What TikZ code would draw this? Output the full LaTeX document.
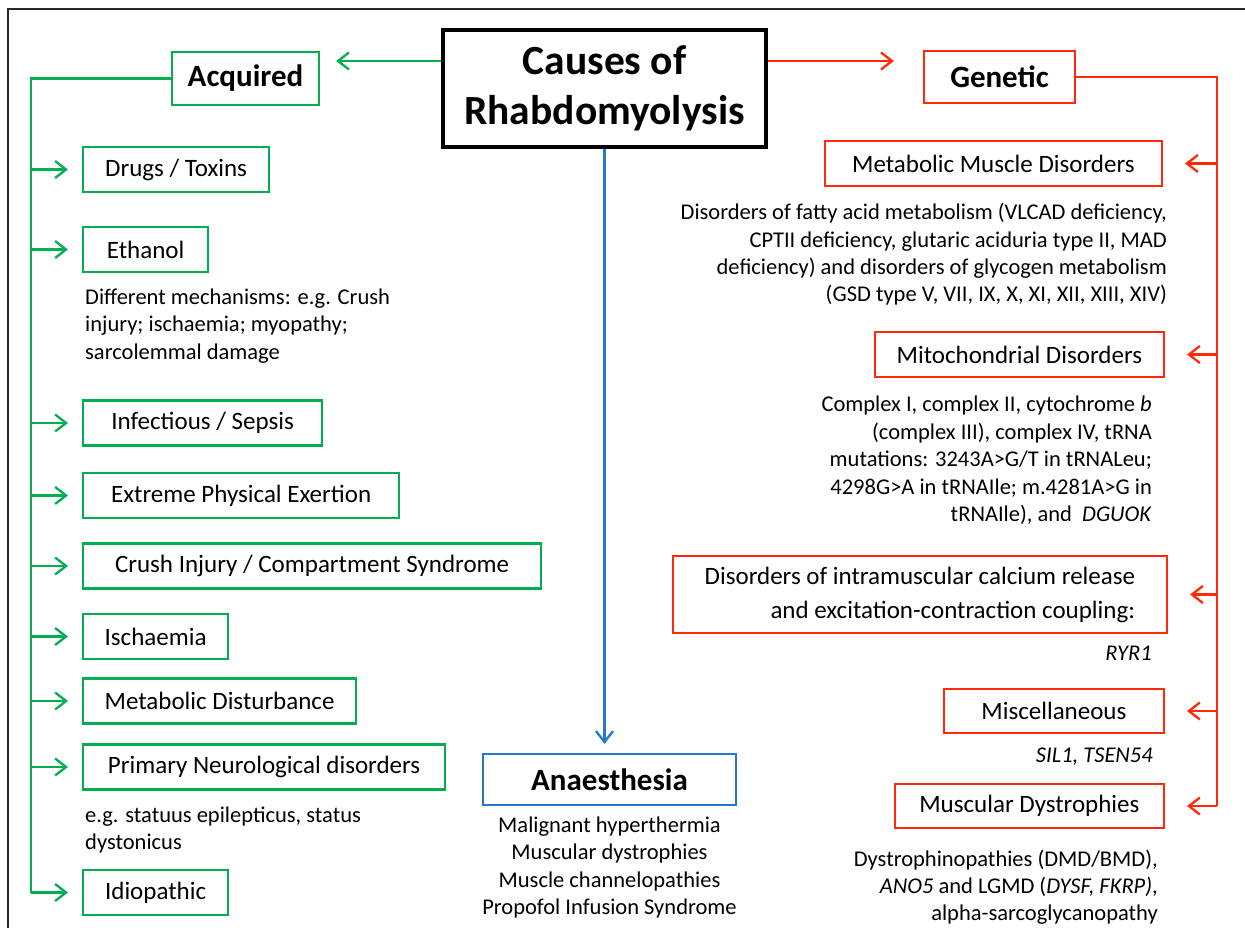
\documentclass[tikz,border=0pt]{standalone}
\usepackage{fontspec}
\setmainfont{Carlito}
\usetikzlibrary{arrows.meta,calc}

\definecolor{acqgreen}{RGB}{0,176,80}
\definecolor{genred}{RGB}{255,42,10}
\definecolor{anablue}{RGB}{35,120,200}

\newcommand{\fsbox}{\fontsize{25}{30}\selectfont}
\newcommand{\fsbody}{\fontsize{22.5}{27.4}\selectfont}
\newcommand{\fshead}{\fontsize{31}{37}\selectfont\bfseries}
\newcommand{\fstitle}{\fontsize{41.5}{50}\selectfont\bfseries}

\tikzset{
  gbox/.style={draw=acqgreen, line width=2.2pt, minimum height=45pt, inner sep=0pt, anchor=west, font=\fsbox},
  rbox/.style={draw=genred, line width=2.2pt, minimum height=45pt, inner sep=0pt, anchor=east, font=\fsbox},
  headbox/.style={line width=2.2pt, inner sep=0pt, font=\fshead},
  gline/.style={draw=acqgreen, line width=2.3pt},
  rline/.style={draw=genred, line width=2.3pt},
  barb/.style={-{Straight Barb[length=11pt,width=17pt]}},
  note/.style={inner sep=0pt, font=\fsbody},
}

\begin{document}
\begin{tikzpicture}[x=1pt,y=-1pt]
\useasboundingbox (0,0) rectangle (1245,928);

% outer frame
\draw[line width=2pt, black!85] (8,928) -- (8,9) -- (1245,9);

% title and the three main branches
\node[draw=black, line width=3.5pt, minimum width=323pt, minimum height=117pt,
      inner sep=0pt, align=center, font=\fstitle] (title) at (604.5,88.5)
      {\raisebox{-3pt}{Causes of}\\\raisebox{-3pt}{Rhabdomyolysis}};
\node[headbox, draw=acqgreen, minimum width=147pt, minimum height=53pt] (acq) at (245.5,78.5) {Acquired};
\node[headbox, draw=genred, minimum width=151pt, minimum height=52pt] (gen) at (999.5,77) {Genetic};
\node[headbox, draw=anablue, minimum width=253pt, minimum height=51pt] (ana) at (609.5,779.5) {Anaesthesia};

\coordinate (tw) at ($(title.west)+(0,-27.5)$);
\coordinate (te) at ($(title.east)+(0,-27.5)$);
\draw[gline, barb, shorten >=16pt] (tw) -- (tw -| acq.east);
\draw[rline, barb, shorten >=29pt] (te) -- (te -| gen.west);
\draw[draw=anablue, line width=2.3pt, barb, shorten >=9pt] (title.south) -- (title.south |- ana.north);

% acquired causes
\node[gbox, minimum width=186pt] (drugs) at (82,169.5) {Drugs / Toxins};
\node[gbox, minimum width=125pt] (eth) at (82,249.5) {Ethanol};
\node[gbox, minimum width=239pt] (inf) at (82,423) {Infectious / Sepsis};
\node[gbox, minimum width=316pt] (ext) at (82,495.5) {Extreme Physical Exertion};
\node[gbox, minimum width=458pt] (crush) at (82,566) {Crush Injury / Compartment Syndrome};
\node[gbox, minimum width=145pt] (isch) at (82,636.5) {Ischaemia};
\node[gbox, minimum width=273pt] (metd) at (82,701) {Metabolic Disturbance};
\node[gbox, minimum width=362pt] (prim) at (82,767) {Primary Neurological disorders};
\node[gbox, minimum width=145pt] (idio) at (82,892.5) {Idiopathic};

\node[note, anchor=north west, align=left] (ethnote) at (85,288.5)
  {Different mechanisms: e.g. Crush\\injury; ischaemia; myopathy;\\sarcolemmal damage};
\node[note, anchor=north west, align=left] (primnote) at (85,806.5)
  {e.g. statuus epilepticus, status\\dystonicus};

\coordinate (gx) at (31,0);
\draw[gline] (acq.west) -| (gx |- idio.west);
\foreach \b in {drugs,eth,inf,ext,crush,isch,metd,prim,idio}
  \draw[gline, barb, shorten >=14pt] (gx |- \b.west) -- (\b.west);

% genetic causes
\node[rbox, minimum width=337pt] (mmd) at (1163,163.5) {Metabolic Muscle Disorders};
\node[rbox, minimum width=289pt] (mito) at (1165,354.5) {Mitochondrial Disorders};
\node[rbox, minimum width=494pt, minimum height=77pt, align=right,
      font=\fontsize{25}{34}\selectfont] (calc) at (1168,594.5)
  {Disorders of intramuscular calcium release\\and excitation-contraction coupling:};
\node[rbox, minimum width=220pt, minimum height=44pt] (misc) at (1165,711) {Miscellaneous};
\node[rbox, minimum width=269pt, minimum height=44pt] (mdys) at (1165,806) {Muscular Dystrophies};

\node[note, anchor=north east, align=right] (mmdnote) at (1167,203)
  {Disorders of fatty acid metabolism (VLCAD deficiency,\\CPTII deficiency, glutaric aciduria type II, MAD\\deficiency) and disorders of glycogen metabolism\\(GSD type V, VII, IX, X, XI, XII, XIII, XIV)};
\node[note, anchor=north east, align=right] (mitonote) at (1152,396)
  {Complex I, complex II, cytochrome \textit{b}\\(complex III), complex IV, tRNA\\mutations: 3243A>G/T in tRNALeu;\\4298G>A in tRNAIle; m.4281A>G in\\tRNAIle), and\ \ \textit{DGUOK}};
\node[note, anchor=north east] (ryr) at (1152,645.5) {\textit{RYR1}};
\node[note, anchor=north east] (sil) at (1153,747.5) {\textit{SIL1, TSEN54}};
\node[note, anchor=north east, align=right] (mdysnote) at (1158,849.5)
  {Dystrophinopathies (DMD/BMD),\\\textit{ANO5} and LGMD (\textit{DYSF, FKRP)},\\alpha-sarcoglycanopathy};

\coordinate (rx) at (1217,0);
\draw[rline] (gen.east) -| (rx |- mdys.east);
\foreach \b in {mmd,mito,calc,misc,mdys}
  \draw[rline, barb, shorten >=22pt] (rx |- \b.east) -- (\b.east);

% anaesthesia
\node[note, anchor=north, align=center] (ananote) at (609.5,816.5)
  {Malignant hyperthermia\\Muscular dystrophies\\Muscle channelopathies\\Propofol Infusion Syndrome};

\end{tikzpicture}
\end{document}
